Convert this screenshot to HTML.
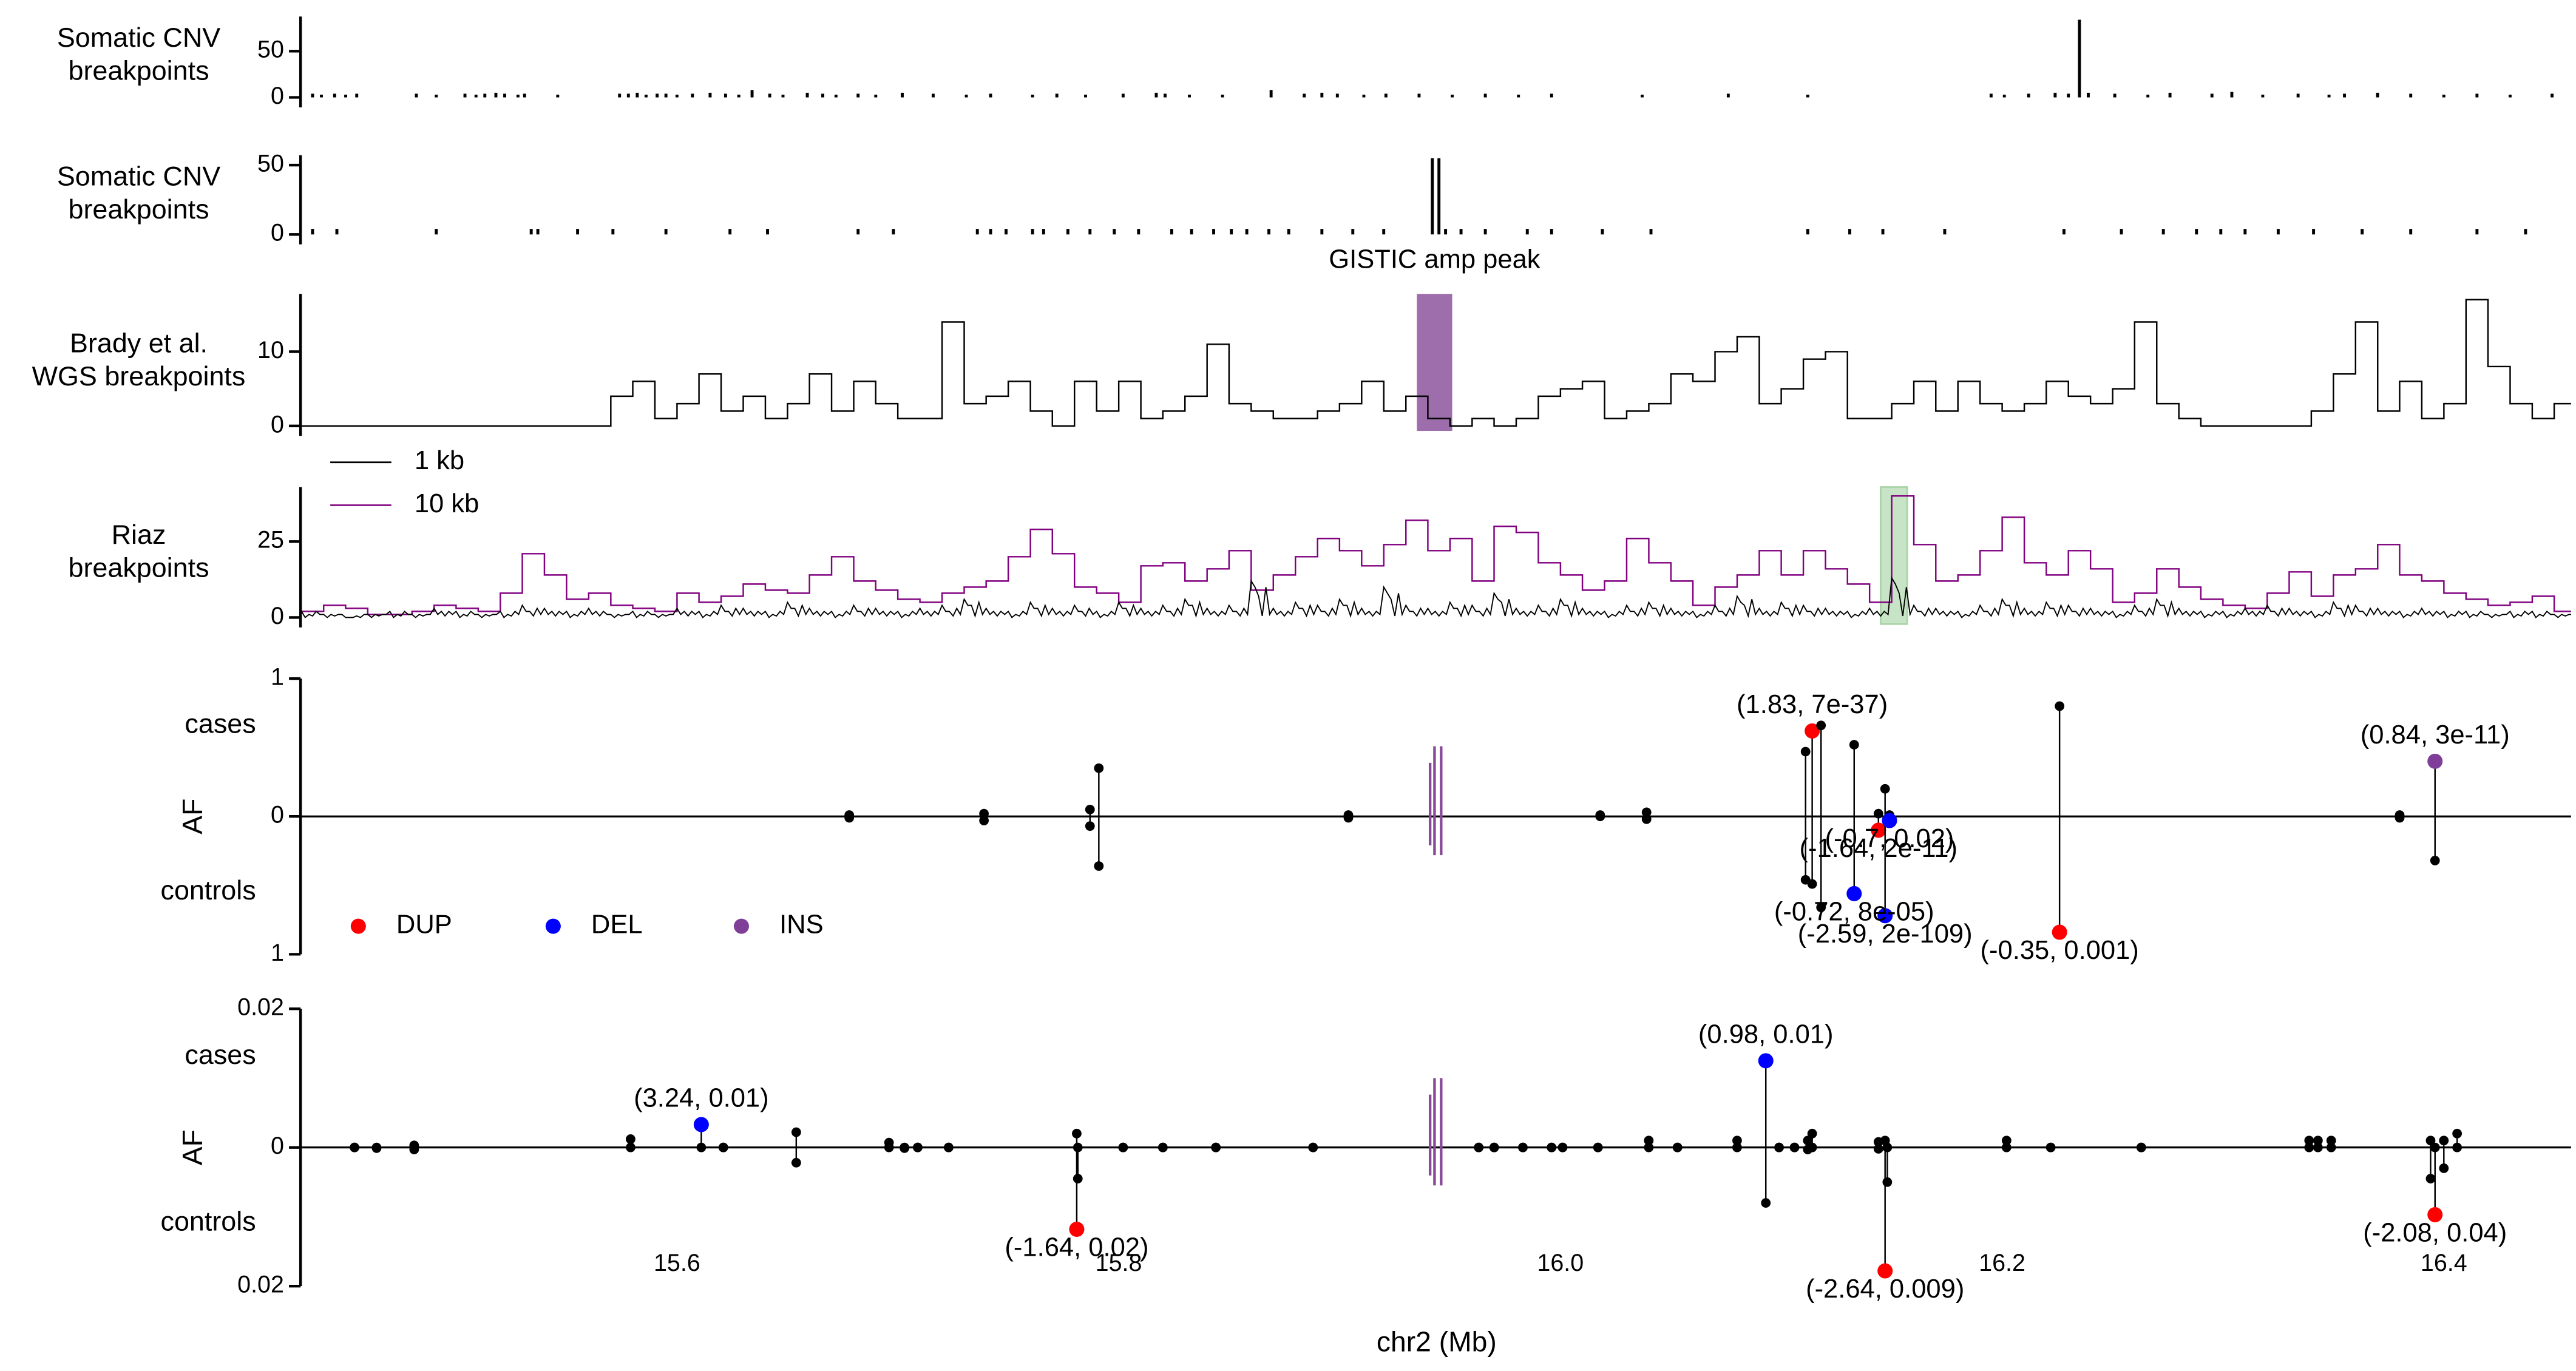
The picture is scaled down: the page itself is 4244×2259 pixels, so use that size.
<!DOCTYPE html>
<html><head><meta charset="utf-8"><style>
html,body{margin:0;padding:0;background:#fff;}
svg{display:block;font-family:"Liberation Sans",Arial,sans-serif;}
</style></head><body>
<svg id="chart" xmlns="http://www.w3.org/2000/svg" width="4244" height="2259" viewBox="0 0 1560 830.4" preserveAspectRatio="none">
<g id="root"></g>
</svg>
<script>
// ---------------- data ----------------
const xTickValues = [15.6, 15.8, 16.0, 16.2, 16.4];
const xTickLabels = ["15.6", "15.8", "16.0", "16.2", "16.4"];

const cnv1Pos = [15.435,15.439,15.445,15.450,15.455,15.482,15.491,15.504,15.509,15.513,15.518,15.522,15.528,15.531,15.546,15.574,15.578,15.582,15.586,15.591,15.595,15.600,15.607,15.615,15.622,15.628,15.634,15.642,15.648,15.659,15.666,15.672,15.682,15.690,15.702,15.716,15.731,15.742,15.761,15.772,15.785,15.802,15.817,15.821,15.832,15.847,15.869,15.884,15.892,15.899,15.911,15.921,15.936,15.951,15.966,15.981,15.996,16.037,16.076,16.112,16.195,16.201,16.212,16.224,16.230,16.235,16.239,16.251,16.266,16.276,16.295,16.304,16.318,16.334,16.348,16.355,16.370,16.385,16.400,16.415,16.430,16.449];
const cnv1Count = [4,3,4,3,4,4,3,4,3,4,5,4,3,4,3,4,4,5,3,4,4,3,4,5,4,3,8,4,3,5,4,3,4,3,5,4,3,4,3,4,3,4,5,4,3,3,8,4,5,4,3,4,4,3,4,3,4,3,4,3,4,3,4,5,4,84,5,4,3,5,4,6,3,4,3,4,5,4,3,4,3,4];

const cnv2Pos = [15.435,15.446,15.491,15.534,15.537,15.555,15.571,15.595,15.624,15.641,15.682,15.698,15.736,15.742,15.749,15.761,15.766,15.777,15.787,15.798,15.809,15.824,15.833,15.843,15.851,15.858,15.868,15.877,15.892,15.906,15.920,15.942,15.945,15.948,15.955,15.966,15.985,15.996,16.019,16.041,16.112,16.131,16.146,16.174,16.228,16.254,16.273,16.288,16.299,16.310,16.325,16.341,16.363,16.385,16.415,16.437];
const cnv2Count = [4,4,4,4,4,4,4,4,4,4,4,4,4,4,4,4,4,4,4,4,4,4,4,4,4,4,4,4,4,4,4,55,55,4,4,4,4,4,4,4,4,4,4,4,4,4,4,4,4,4,4,4,4,4,4,4];

// Brady: 10 kb bins starting at 15.43 Mb
const bradyValues = [0,0,0,0,0,0,0,0,0,0,0,0,0,0,4,6,1,3,7,2,4,1,3,7,2,6,3,1,1,14,3,4,6,2,0,6,2,6,1,2,4,11,3,2,1,1,2,3,6,2,4,1,0,1,0,1,4,5,6,1,2,3,7,6,10,12,3,5,9,10,1,1,3,6,2,6,3,2,3,6,4,3,5,14,3,1,0,0,0,0,0,2,7,14,2,6,1,3,17,8,3,1,3];

// Riaz: 10 kb bins starting at 15.43 Mb
const riaz10kb = [2,4,3,1,1,2,4,3,2,8,21,14,6,8,4,3,2,8,5,7,11,9,8,14,20,12,9,6,5,8,10,12,20,29,21,10,8,5,17,18,12,16,22,9,14,20,26,22,17,24,32,22,26,12,30,28,18,14,9,12,26,18,12,4,10,14,22,14,22,16,11,5,40,24,12,14,22,33,18,14,22,16,5,8,16,10,6,4,3,8,15,7,14,16,24,14,12,8,6,4,5,7,2];
const riaz1kb = [2,1,0,1,2,1,3,2,1,2,4,3,2,3,1,2,1,3,2,4,3,2,5,3,2,4,3,2,3,4,6,3,2,5,3,4,2,5,3,4,6,3,4,12,3,5,4,6,3,10,4,3,5,4,8,3,4,6,3,2,4,5,3,2,4,7,3,5,4,3,2,3,13,4,3,2,4,6,3,5,4,3,2,4,6,3,2,2,3,4,3,2,5,4,3,2,3,2,2,1,2,2,1];

const gisticStart = 15.935, gisticEnd = 15.951;
const greenStart = 16.145, greenEnd = 16.157;
const gisticMarks = [15.941, 15.943, 15.946];

const af1Pos = [15.678,15.739,15.787,15.791,15.904,16.018,16.039,16.111,16.114,16.118,16.133,16.144,16.147,16.149,16.226,16.380,16.396];
const af1Case = [0.01,0.02,0.05,0.35,0.01,0.01,0.03,0.47,0.62,0.66,0.52,0.02,0.20,0.01,0.80,0.01,0.40];
const af1Ctrl = [0.01,0.03,0.07,0.36,0.01,0.00,0.02,0.46,0.49,0.66,0.56,0.10,0.72,0.03,0.84,0.01,0.32];
const af1Type = ["","","","","","","","","DUP","","DEL","DUP","DEL","DEL","DUP","","INS"];
const af1Side = ["","","","","","","","","case","","ctrl","ctrl","ctrl","ctrl","ctrl","","case"];
const af1Labels = ["","","","","","","","","(1.83, 7e-37)","","(-0.72, 8e-05)","(-1.64, 2e-11)","(-2.59, 2e-109)","(-0.7, 0.02)","(-0.35, 0.001)","","(0.84, 3e-11)"];

const af2Pos = [15.454,15.464,15.481,15.579,15.611,15.621,15.654,15.696,15.703,15.709,15.723,15.781,15.7815,15.802,15.820,15.844,15.888,15.963,15.970,15.983,15.996,16.001,16.017,16.040,16.053,16.080,16.093,16.099,16.106,16.112,16.114,16.144,16.147,16.148,16.202,16.222,16.263,16.339,16.343,16.349,16.394,16.396,16.400,16.406];
const af2Case = [0,0,0.0003,0.0012,0.0033,0,0.0022,0.0007,0,0,0,0.002,0,0,0,0,0,0,0,0,0,0,0,0.001,0,0.001,0.0125,0,0,0.001,0.002,0.0008,0.001,0,0.001,0,0,0.001,0.001,0.001,0.001,0,0.001,0.002];
const af2Ctrl = [0,0.0001,0.0003,0,0,0,0.0022,0,0.0001,0,0,0.0118,0.0045,0,0,0,0,0,0,0,0,0,0,0,0,0,0.008,0,0,0.0003,0,0.0002,0.0178,0.005,0,0,0,0,0,0,0.0045,0.0097,0.003,0];
const af2Type = ["","","","","DEL","","","","","","","DUP","","","","","","","","","","","","","","","DEL","","","","","","DUP","","","","","","","","","DUP","",""];
const af2Side = ["","","","","case","","","","","","","ctrl","","","","","","","","","","","","","","","case","","","","","","ctrl","","","","","","","","","ctrl","",""];
const af2Labels = ["","","","","(3.24, 0.01)","","","","","","","(-1.64, 0.02)","","","","","","","","","","","","","","","(0.98, 0.01)","","","","","","(-2.64, 0.009)","","","","","","","","","(-2.08, 0.04)","",""];

// ---------------- helpers ----------------
const NS = "http://www.w3.org/2000/svg";
const root = document.getElementById("root");
const BIN0 = 15.43, BINW = 0.01;
function X(mb){ return 182.6 + (mb - 15.43) * 1337.5; }
function mk(tag, attrs, parent){
  const e = document.createElementNS(NS, tag);
  for (const k in attrs) e.setAttribute(k, attrs[k]);
  (parent || root).appendChild(e);
  return e;
}
function txt(s, x, y, size, anchor, parent){
  const t = mk("text", {x:x, y:y, "font-size":size, "text-anchor":anchor||"middle", "dominant-baseline":"middle", fill:"#000"}, parent);
  t.textContent = s;
  return t;
}
const SPX = 182, XEND = 1557;
const TYPECOL = {DUP:"#ff0000", DEL:"#0000ff", INS:"#7f3f98"};

function yAxis(name, top, bottom, ticks, yOf){
  const g = mk("g", {});
  
  
  mk("line", {x1:SPX, y1:top, x2:SPX, y2:bottom, stroke:"#000", "stroke-width":1.6}, g);
  ticks.forEach(t => {
    const y = yOf(t.v);
    mk("line", {x1:SPX-7, y1:y, x2:SPX, y2:y, stroke:"#000", "stroke-width":1.6}, g);
    const l = txt(t.l, SPX-10, y, 14.5, "end", g);
    
    
  });
  return g;
}
function title(lines, y0, dy){
  lines.forEach((s,i) => {
    const t = txt(s, 84, y0 + i*dy, 16.5, "middle");
    
    
  });
}

// ---------------- panel 1: somatic CNV ----------------
(function(){
  const y0 = 59, k = 28/50;
  const Y = v => y0 - v*k;
  title(["Somatic CNV","breakpoints"], 24, 20);
  yAxis("cnv1-y-axis", 10, 65, [{v:0,l:"0"},{v:50,l:"50"}], Y);
  const g = mk("g", {});
  
  
  cnv1Pos.forEach((p,i) => {
    const b = mk("line", {x1:X(p), x2:X(p), y1:Y(0), y2:Y(cnv1Count[i]), stroke:"#000", "stroke-width":1.8}, g);
    
    
  });
})();

// ---------------- panel 2 ----------------
(function(){
  const y0 = 142, k = 42/50;
  const Y = v => y0 - v*k;
  title(["Somatic CNV","breakpoints"], 108, 20);
  yAxis("cnv2-y-axis", 94, 148, [{v:0,l:"0"},{v:50,l:"50"}], Y);
  const g = mk("g", {});
  
  
  cnv2Pos.forEach((p,i) => {
    const b = mk("line", {x1:X(p), x2:X(p), y1:Y(0), y2:Y(cnv2Count[i]), stroke:"#000", "stroke-width":1.8}, g);
    
    
  });
  const gl = txt("GISTIC amp peak", (X(gisticStart)+X(gisticEnd))/2, 158, 16, "middle");
  
  
})();

// ---------------- panel 3: Brady ----------------
(function(){
  const y0 = 258, k = 45/10;
  const Y = v => y0 - v*k;
  title(["Brady et al.","WGS breakpoints"], 209, 20);
  yAxis("brady-y-axis", 178, 264, [{v:0,l:"0"},{v:10,l:"10"}], Y);
  const r = mk("rect", {x:X(gisticStart), y:178, width:X(gisticEnd)-X(gisticStart), height:83, fill:"#9d6eab"});
  
  
  let d = "M" + SPX + " " + Y(bradyValues[0]);
  bradyValues.forEach((v,i) => {
    const xa = Math.max(SPX, X(BIN0 + i*BINW)), xb = Math.min(XEND, X(BIN0 + (i+1)*BINW));
    d += " L" + xa.toFixed(1) + " " + Y(v) + " L" + xb.toFixed(1) + " " + Y(v);
  });
  const p = mk("path", {d:d, fill:"none", stroke:"#000", "stroke-width":0.9});
  
  
})();

// ---------------- legend 1kb / 10kb ----------------
(function(){
  const g = mk("g", {});
  
  
  mk("line", {x1:200, x2:237, y1:280, y2:280, stroke:"#000", "stroke-width":1}, g);
  txt("1 kb", 251, 280, 16, "start", g);
  mk("line", {x1:200, x2:237, y1:306, y2:306, stroke:"#800080", "stroke-width":1}, g);
  txt("10 kb", 251, 306, 16, "start", g);
})();

// ---------------- panel 4: Riaz ----------------
(function(){
  const y0 = 374, k = 46/25;
  const Y = v => y0 - v*k;
  title(["Riaz","breakpoints"], 325, 20);
  yAxis("riaz-y-axis", 295, 380, [{v:0,l:"0"},{v:25,l:"25"}], Y);
  const r = mk("rect", {x:X(greenStart), y:295, width:X(greenEnd)-X(greenStart), height:83, fill:"#c8e4c6", stroke:"#a8d4a6", "stroke-width":1});
  
  
  let d = "";
  riaz10kb.forEach((v,i) => {
    const xa = Math.max(SPX, X(BIN0 + i*BINW)), xb = Math.min(XEND, X(BIN0 + (i+1)*BINW));
    d += (i===0 ? "M" : " L") + xa.toFixed(1) + " " + Y(v) + " L" + xb.toFixed(1) + " " + Y(v);
  });
  const p = mk("path", {d:d, fill:"none", stroke:"#800080", "stroke-width":0.9});
  
  
  let d2 = "M" + SPX + " " + Y(0);
  riaz1kb.forEach((v,i) => {
    const xa = X(BIN0 + i*BINW);
    const sub = [v, Math.max(0, v-2), Math.round(v*0.6), 0.5, Math.round(v*0.8), 1];
    sub.forEach((s,j) => {
      const xx = Math.min(XEND, xa + j*BINW*1337.5/6);
      d2 += " L" + xx.toFixed(1) + " " + Y(s);
    });
  });
  const p2 = mk("path", {d:d2, fill:"none", stroke:"#000", "stroke-width":0.7});
  
  
})();

// ---------------- AF panels ----------------
function afPanel(prefix, y0, half, maxV, tickLabel, pos, cs, ct, types, sides, labels, markTop, markBot){
  const k = half / maxV;
  const Yc = v => y0 - v*k, Yt = v => y0 + v*k;
  yAxis(prefix + "-y-axis", y0-half, y0+half, [{v:maxV,l:tickLabel},{v:0,l:"0"},{v:-maxV,l:tickLabel}], v => y0 - v*k);
  const c1 = txt("cases", 155, y0-55, 16.5, "end");  
  const c2 = txt("controls", 155, y0+46, 16.5, "end");  
  const af = mk("text", {x:0, y:0, "font-size":17, "text-anchor":"middle", "dominant-baseline":"middle", transform:"translate(118," + y0 + ") rotate(-90)"});
  af.textContent = "AF";
  
  
  const zl = mk("line", {x1:SPX, x2:XEND, y1:y0, y2:y0, stroke:"#000", "stroke-width":1.2});
  
  
  gisticMarks.forEach((m,i) => {
    const l = mk("line", {x1:X(m), x2:X(m), y1:markTop + (i===0?10:0), y2:markBot - (i===0?6:0), stroke:"#8a4a9a", "stroke-width":1.6});
    
    
  });
  const g = mk("g", {});
  
  
  const colored = [];
  pos.forEach((p,i) => {
    const x = X(p), ya = Yc(cs[i]), yb = Yt(ct[i]);
    mk("line", {x1:x, x2:x, y1:ya, y2:yb, stroke:"#000", "stroke-width":0.9}, g);
    const t = types[i];
    const d1 = mk("circle", {cx:x, cy:ya, r:(t && sides[i]==="case") ? 4.6 : 2.9, fill:(t && sides[i]==="case") ? TYPECOL[t] : "#000"}, g);
    
    
    const d2 = mk("circle", {cx:x, cy:yb, r:(t && sides[i]==="ctrl") ? 4.6 : 2.9, fill:(t && sides[i]==="ctrl") ? TYPECOL[t] : "#000"}, g);
    
    
    if (labels[i]) colored.push(i);
  });
  colored.forEach(i => {
    const x = X(pos[i]);
    const y = sides[i]==="case" ? Yc(cs[i]) - 15 : Yt(ct[i]) + 12;
    const l = txt(labels[i], x, y, 16, "middle");
    
    
  });
}
afPanel("af-all", 494.5, 83.5, 1, "1", af1Pos, af1Case, af1Ctrl, af1Type, af1Side, af1Labels, 452, 518);
afPanel("af-rare", 695, 84, 0.02, "0.02", af2Pos, af2Case, af2Ctrl, af2Type, af2Side, af2Labels, 653, 718);

// SV type legend
(function(){
  const types = ["DUP","DEL","INS"];
  const xs = [217, 335, 449];
  const g = mk("g", {});
  
  
  types.forEach((t,i) => {
    const c = mk("circle", {cx:xs[i], cy:561, r:4.6, fill:TYPECOL[t]}, g);
    
    
    const l = txt(t, xs[i]+23, 561, 16, "start", g);
    
    
  });
})();

// x-axis tick labels + title
(function(){
  const g = mk("g", {});
  
  
  xTickValues.forEach((v,i) => {
    const l = txt(xTickLabels[i], X(v), 766, 14.5, "middle", g);
    
    
  });
  const t = txt("chr2 (Mb)", 870, 814, 17, "middle", g);
  
  
})();
</script>
</body></html>
